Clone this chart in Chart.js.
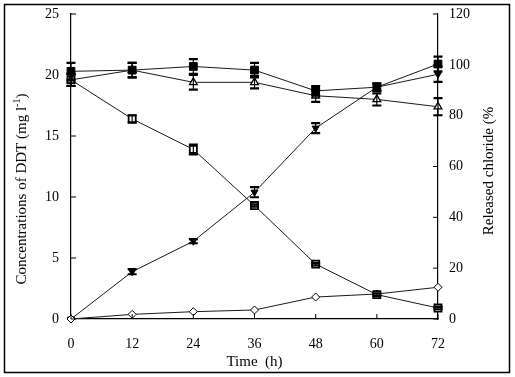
<!DOCTYPE html>
<html>
<head>
<meta charset="utf-8">
<script src="https://cdn.jsdelivr.net/npm/chart.js@4"></script>
<style>
  html, body { margin: 0; padding: 0; background: #fff; }
  #wrap { width: 515px; height: 377px; }
</style>
</head>
<body>
<div id="wrap"><canvas id="ddtChart" width="515" height="377"></canvas></div>
<script>
// ── DDT degradation / chloride release ──
const times = ['0','12','24','36','48','60','72'];
const ctrlDDT = [20.3, 20.4, 20.7, 20.4, 18.7, 19.0, 20.9];   // filled squares
const ctrlErr = [0.7, 0.6, 0.6, 0.6, 0.4, 0.3, 0.6];
const triDDT  = [19.6, 20.4, 19.4, 19.4, 18.3, 18.0, 17.4];   // open triangles
const triErr  = [0.5, 0.6, 0.6, 0.5, 0.5, 0.5, 0.7];
const degDDT  = [19.6, 16.4, 13.9, 9.3, 4.5, 2.0, 0.9];       // open squares
const degErr  = [0.5, 0.3, 0.4, 0.1, 0.1, 0.1, 0.1];
const metab   = [0, 0.38, 0.6, 0.74, 1.8, 2.05, 2.6];         // open diamonds
const chloride = [0, 18.6, 30.6, 49.9, 75.1, 91.2, 96.3];     // released chloride (%)
const chlErr   = [0, 1.0, 0.8, 2.0, 2.0, 1.5, 3.0];
const leftTicks = [0, 5, 10, 15, 20, 25];
const rightTicks = [0, 20, 40, 60, 80, 100, 120];

const serif = "'Liberation Serif', 'Times New Roman', serif";

// error bars, inward tick marks, frame and axis titles
const decor = {
  id: 'decor',
  beforeDraw(chart) {
    const c = chart.ctx;
    c.save(); c.fillStyle = '#fff'; c.fillRect(0, 0, chart.width, chart.height); c.restore();
  },
  afterDatasetsDraw(chart) {
    const c = chart.ctx;
    c.save();
    c.strokeStyle = '#000';
    chart.data.datasets.forEach((ds, i) => {
      if (!ds.err) return;
      const meta = chart.getDatasetMeta(i);
      const ys = chart.scales[ds.yAxisID || 'y'];
      meta.data.forEach((pt, j) => {
        const e = ds.err[j];
        if (!e) return;
        const y1 = ys.getPixelForValue(ds.data[j] + e);
        const y2 = ys.getPixelForValue(ds.data[j] - e);
        c.lineWidth = 1.2;
        c.beginPath(); c.moveTo(pt.x, y1); c.lineTo(pt.x, y2); c.stroke();
        c.lineWidth = 2.2;
        c.beginPath();
        c.moveTo(pt.x - 4.5, y1); c.lineTo(pt.x + 4.5, y1);
        c.moveTo(pt.x - 4.5, y2); c.lineTo(pt.x + 4.5, y2);
        c.stroke();
      });
    });
    c.restore();
  },
  afterDraw(chart) {
    const c = chart.ctx, a = chart.chartArea;
    const sx = chart.scales.x, sy = chart.scales.y, sr = chart.scales.y1;
    c.save();
    c.strokeStyle = '#000'; c.lineWidth = 1;
    c.beginPath();
    sx.ticks.forEach((t, i) => { const x = sx.getPixelForTick(i); c.moveTo(x, a.bottom); c.lineTo(x, a.bottom - 5); });
    sy.ticks.forEach((t, i) => { const y = sy.getPixelForTick(i); c.moveTo(a.left, y); c.lineTo(a.left + 5, y); });
    sr.ticks.forEach((t, i) => { const y = sr.getPixelForTick(i); c.moveTo(a.right, y); c.lineTo(a.right - 5, y); });
    c.stroke();
    // outer frame
    c.lineWidth = 1.5;
    c.strokeRect(4.5, 4.5, 505, 368);
    // titles
    c.fillStyle = '#000';
    c.font = '15px ' + serif;
    c.textAlign = 'center'; c.textBaseline = 'alphabetic';
    c.fillText('Time  (h)', (a.left + a.right) / 2, 366);
    // left title with superscript
    const main = 'Concentrations of DDT (mg l', sup = '-1', tail = ')';
    c.font = '15px ' + serif; const wMain = c.measureText(main).width, wTail = c.measureText(tail).width;
    c.font = '10px ' + serif; const wSup = c.measureText(sup).width;
    const total = wMain + wSup + wTail;
    c.save();
    c.translate(26, 189); c.rotate(-Math.PI / 2);
    c.textAlign = 'left';
    let x0 = -total / 2;
    c.font = '15px ' + serif; c.fillText(main, x0, 0);
    c.font = '10px ' + serif; c.fillText(sup, x0 + wMain, -6);
    c.font = '15px ' + serif; c.fillText(tail, x0 + wMain + wSup, 0);
    c.restore();
    // right title
    c.save();
    c.translate(493, 171); c.rotate(-Math.PI / 2);
    c.textAlign = 'center';
    c.font = '15px ' + serif;
    c.fillText('Released chloride (%', 0, 0);
    c.restore();
    c.restore();
  }
};

const lineCol = '#1a1a1a';
// hidden grid, only used to reserve room between axis and labels
const hiddenGrid = { display: true, drawOnChartArea: false, drawTicks: true, tickLength: 10, color: 'rgba(0,0,0,0)' };
new Chart(document.getElementById('ddtChart').getContext('2d'), {
  type: 'line',
  data: {
    labels: times,
    datasets: [
      { label: 'Control DDT', data: ctrlDDT, err: ctrlErr, yAxisID: 'y', pointStyle: 'rect', pointRadius: 5.5, backgroundColor: '#000', borderColor: lineCol, pointBorderColor: '#000', borderWidth: 1, pointBorderWidth: 1 },
      { label: 'DDT (triangle)', data: triDDT, err: triErr, yAxisID: 'y', pointStyle: 'triangle', pointRadius: 4.5, backgroundColor: '#fff', borderColor: lineCol, pointBorderColor: '#000', borderWidth: 1, pointBorderWidth: 1.3 },
      { label: 'DDT degraded', data: degDDT, err: degErr, yAxisID: 'y', pointStyle: 'rect', pointRadius: 5, backgroundColor: '#fff', borderColor: lineCol, pointBorderColor: '#000', borderWidth: 1, pointBorderWidth: 1.8 },
      { label: 'Metabolite', data: metab, yAxisID: 'y', pointStyle: 'rectRot', pointRadius: 4, backgroundColor: '#fff', borderColor: lineCol, pointBorderColor: '#000', borderWidth: 1, pointBorderWidth: 1 },
      { label: 'Released chloride', data: chloride, err: chlErr, yAxisID: 'y1', pointStyle: 'triangle', rotation: 180, pointRadius: 4, backgroundColor: '#000', borderColor: lineCol, pointBorderColor: '#000', borderWidth: 1, pointBorderWidth: 1 }
    ]
  },
  options: {
    responsive: false,
    animation: false,
    clip: false,
    layout: { padding: { left: 0, right: 0, top: 14, bottom: 0 } },
    plugins: { legend: { display: false }, tooltip: { enabled: false } },
    elements: { line: { tension: 0, fill: false } },
    scales: {
      x: {
        offset: false,
        grid: { display: false },
        border: { display: true, color: '#000', width: 1.2 },
        ticks: { color: '#000', font: { family: serif, size: 14 }, padding: 9, maxRotation: 0 },
        afterFit(s) { s.height = 58; }
      },
      y: {
        position: 'left', min: 0, max: 25,
        grid: hiddenGrid,
        border: { display: true, color: '#000', width: 1.2 },
        afterBuildTicks(s) { s.ticks = leftTicks.map(v => ({ value: v })); },
        ticks: { color: '#000', font: { family: serif, size: 14 }, padding: 2 },
        afterFit(s) { s.width = 71; }
      },
      y1: {
        position: 'right', min: 0, max: 120,
        grid: hiddenGrid,
        border: { display: true, color: '#000', width: 1.2 },
        afterBuildTicks(s) { s.ticks = rightTicks.map(v => ({ value: v })); },
        ticks: { color: '#000', font: { family: serif, size: 14 }, padding: 1 },
        afterFit(s) { s.width = 77; }
      }
    }
  },
  plugins: [decor]
});
</script>
</body>
</html>
